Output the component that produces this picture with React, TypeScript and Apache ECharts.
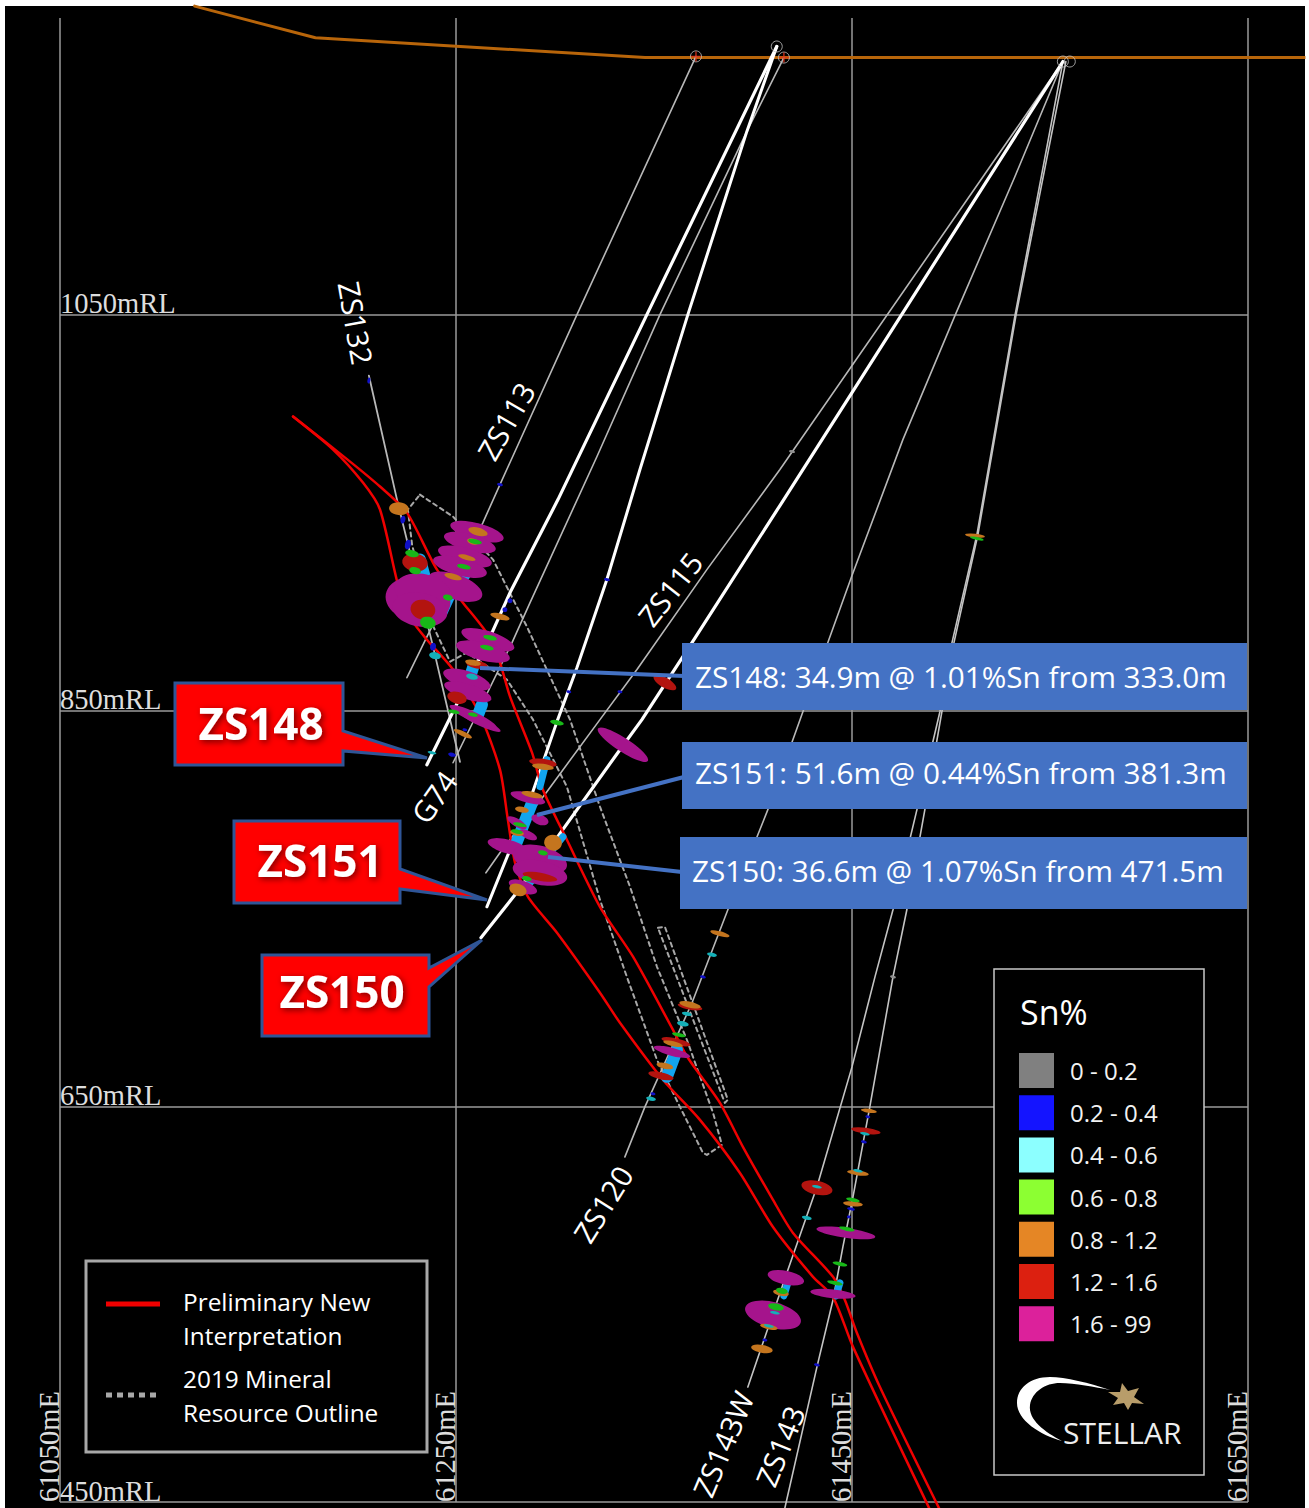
import React, { useEffect, useRef } from "react";
import * as echarts from "echarts";

type Pt = [number, number];
// Disc: easting, RL, width (m), thickness (m), tilt (deg)
type Disc = [number, number, number, number, number?];

const eastTicks = [61050, 61250, 61450, 61650];
const rlTicks = [450, 650, 850, 1050];

const topography: Pt[] = [[61118, 1206], [61179, 1190], [61345.5, 1180], [61650, 1180]];
const topographyEast: Pt[] = [[61650, 1180], [61679, 1180]];

const collarsRed: Pt[] = [[61371.2, 1180.6], [61415.6, 1180]];
const collarsGrey: Pt[] = [[61412, 1185.6], [61556.5, 1178], [61560, 1178]];

const holeZS148: Pt[] = [[61412, 1185.6], [61346.4, 1050.1], [61301.5, 956.6], [61277.3, 909.6], [61268.2, 889.4], [61235.3, 822.6]];
const holeZS151: Pt[] = [[61412, 1185.6], [61396.9, 1142.7], [61367.1, 1050.1], [61342.9, 971.8], [61326.2, 916.2], [61311.1, 871.7], [61301, 844.4], [61287.4, 804.9], [61277.3, 779.7], [61265.6, 750.8]];
const holeZS150: Pt[] = [[61556.5, 1178], [61450, 1010.7], [61413.6, 953.6], [61369.2, 884.3], [61343.9, 845.4], [61332.8, 830.2], [61295.9, 778.6], [61279.8, 756.9], [61262.6, 735.2]];

const holeZS113: Pt[] = [[61371.2, 1180.6], [61311.1, 1050.1], [61272.2, 964.2], [61263.6, 945], [61225.2, 866.6]];
const holeZS132: Pt[] = [[61206, 1019.3], [61220.2, 956.6], [61238.4, 882.3], [61252, 824.1]];
const holeG74: Pt[] = [[61415.6, 1180], [61396.9, 1142.7], [61353, 1050.1], [61321.2, 978.4], [61287.4, 904.5], [61278.3, 884.3], [61248.5, 823.6]];
const holeZS115: Pt[] = [[61556.5, 1178], [61413.6, 971.8], [61376.7, 921.2], [61341.4, 870.7], [61322.7, 845.4], [61295.9, 809], [61272.2, 778.1], [61265.1, 768]];
const holeZS120: Pt[] = [[61556.5, 1178], [61532.3, 1119.9], [61502, 1049.6], [61475.7, 986.9], [61450, 918.2], [61425.2, 849.4], [61407.5, 799.9], [61387.3, 749.3], [61369.2, 702.3], [61345.4, 649.7], [61335.3, 624.4]];
const holeZS143W: Pt[] = [[61556.5, 1178], [61546.4, 1124], [61532.3, 1049.6], [61513.1, 938.9], [61500.5, 884.3], [61494.4, 849.4], [61482.8, 799.9], [61470.7, 749.3], [61461.6, 715.4], [61450, 669.9], [61432.3, 609.3], [61417.1, 565.8], [61397.4, 508.1]];
const holeZS143: Pt[] = [[61558, 1178], [61547.4, 1124], [61532.8, 1049.6], [61513.6, 938.9], [61501.5, 884.3], [61495.4, 849.4], [61486.8, 799.9], [61477.7, 749.3], [61470.7, 715.4], [61459, 649.7], [61450.5, 604.2], [61445.4, 578.9], [61440.4, 552.1], [61432.3, 518.3], [61416.1, 447]];

const interpretationUpper: Pt[] = [[61167.7, 998.6], [61196.5, 975.8], [61211.6, 963.2], [61225.2, 950], [61240.4, 921.2], [61253.5, 904.5], [61266.1, 888.4], [61272.2, 874.2], [61277.3, 857], [61288.4, 828.7], [61293.9, 810], [61306, 784.7], [61322.7, 750.8], [61339.4, 725.6], [61359.6, 688.6], [61367.1, 674.5], [61383.3, 651.7], [61394.9, 629.5], [61410.1, 602.7], [61420.2, 586], [61440.4, 563.8], [61446.4, 552.1], [61452.5, 535.4], [61464.1, 508.1], [61494.4, 446]];
const interpretationLower: Pt[] = [[61167.7, 998.6], [61187.9, 981.9], [61203, 965.2], [61211.6, 951.6], [61220.7, 913.6], [61226.8, 897], [61235.3, 885.8], [61248.5, 870.7], [61262.1, 847.9], [61272.2, 820.1], [61276.2, 794.8], [61279.8, 773.1], [61286.3, 755.9], [61301, 737.7], [61322.7, 707.4], [61332.8, 692.2], [61354.5, 663.4], [61373.2, 643.1], [61393.4, 616.3], [61410.1, 589], [61430.3, 563.8], [61440.4, 553.6], [61450.5, 528.4], [61489.4, 446]];

const resourceOutlineMain: Pt[] = [[61231.8, 959.1], [61248.5, 948], [61268.7, 926.3], [61285.8, 892.4], [61307.6, 845.4], [61322.7, 801.4], [61337.9, 760.9], [61351.5, 720.5], [61366.6, 683.6], [61379.8, 646.7], [61384.3, 630.5], [61376.7, 625.4], [61374.7, 626.5], [61363.1, 649.7], [61351.5, 673.5], [61336.3, 715.4], [61322.7, 754.4], [61306, 811.5], [61288.9, 845.4], [61275.7, 865.6], [61255.5, 879.3], [61247, 874.7], [61236.9, 895.9], [61227.8, 933.9], [61225.7, 951.6], [61231.8, 959.1]];
const resourceOutlineSliver: Pt[] = [[61352, 740.2], [61355.5, 740.7], [61387.3, 653.3], [61385.8, 651.7], [61352, 740.2]];

const assayBarsWide: (Pt | null)[] = [[61248, 911.1], [61242.9, 900], null, [61231.8, 926.3], [61234.3, 917.2], null, [61258.6, 871.7], [61256, 863.6], null, [61263.1, 853], [61260.6, 846.4], null, [61288.4, 803.4], [61279.8, 781.2], null, [61361.6, 678.5], [61356.5, 664.9], null, [61261.1, 941.4], [61257, 932.3], null, [61256, 921.2], [61251, 913.6]];
const assayBarsNarrow: (Pt | null)[] = [[61295.9, 825.2], [61292.4, 811.5], null, [61304, 786.2], [61297.5, 778.1], null, [61288.9, 764.5], [61283.8, 759.4], null, [61443.9, 560.7], [61441.9, 554.2], null, [61417.6, 560.7], [61415.6, 554.2]];

const discsHigh: Disc[] = [
  [61260.6, 940.4, 27.8, 8.6, -15], [61257, 934.9, 27, 8.6, -15], [61254.5, 927.8, 28, 9, -15], [61252, 922.7, 28, 9, -15],
  [61249.5, 912.6, 29, 12.5, -20], [61230.8, 906, 33, 23, -10], [61233.3, 910, 29, 18, -12], [61231.8, 901, 28, 17, -10],
  [61266.1, 885.8, 28, 8.6, -18], [61263.6, 879.8, 28, 9, -15], [61255.5, 865.6, 25, 8.6, -18], [61256, 859.5, 25, 7.6, -18],
  [61258.6, 846.9, 26, 5, -25], [61262.1, 844.4, 23, 4, -25], [61334.3, 832.7, 30, 7, -33], [61286.3, 805.9, 18, 5, -15],
  [61292.4, 794.8, 9, 5, -20], [61280.8, 793.3, 11, 4, -30], [61286.3, 787.2, 10, 4, -25], [61276.2, 781.2, 21, 7, -15],
  [61292.4, 774.6, 28, 14, -15], [61292.4, 768, 28, 12, -12], [61283.8, 760.9, 15, 6, -20], [61359.1, 677.5, 19, 4, -15],
  [61416.6, 563.3, 18.7, 7, -12], [61410.1, 544.5, 29, 13, -15], [61446.9, 586, 30, 5, -8], [61440.4, 555.2, 23, 4.5, -6],
];
const discsRed: Disc[] = [
  [61229.3, 924.8, 13, 9, -10], [61233.3, 901, 12.6, 10, -10], [61250.5, 856.5, 10, 6, -15], [61260.6, 873.2, 11, 4, -10],
  [61293.9, 823.6, 14, 4, -8], [61292.4, 766, 17.7, 4, -10], [61368.2, 700.3, 12.6, 3, -10], [61361.1, 682.6, 15, 3.5, -13],
  [61353.5, 665.4, 13, 3.5, -13], [61432.3, 608.8, 16, 7, -12], [61457, 637.6, 15, 3, -8], [61355.5, 864.1, 13, 5, -30],
];
const discsOrange: Disc[] = [
  [61221.2, 952, 10, 6.5, -5], [61272.2, 897.5, 10, 3, -15], [61253.5, 838.3, 10, 2.5, -25], [61293.9, 821.6, 11, 3, -8],
  [61288.4, 807.5, 11, 3, -12], [61283.3, 799.9, 7, 3, -10], [61280.8, 788.2, 7, 3, -10], [61299, 783.2, 9, 8, -15],
  [61281.3, 759.4, 9, 6, -20], [61261.1, 940.4, 10, 4, -15], [61258.6, 935.4, 6, 3, -15], [61255.5, 927.3, 9, 2.5, -15],
  [61248.5, 917.7, 9, 3, -15], [61258.6, 874.2, 8, 3, -10], [61383.3, 737.2, 10, 2.5, -15], [61368.2, 701.3, 11, 3, -12],
  [61359.6, 681.6, 10, 2.5, -13], [61355.5, 670.4, 8.6, 3, -13], [61458.5, 647.7, 8, 2, -8], [61453, 616.3, 11, 2.5, -8],
  [61450.5, 600.7, 10, 2.5, -6], [61414.1, 555.7, 8, 3, -12], [61408, 538.5, 9, 2.5, -12], [61404.5, 527.4, 11, 4, -10],
  [61512.1, 938.4, 10, 2, -6],
];
const discsGreen: Disc[] = [
  [61227.8, 929.3, 7, 3.5], [61229.3, 920.7, 6, 3.5], [61235.8, 894.4, 8, 6], [61245.9, 907.1, 5, 3], [61267.2, 886.8, 7, 2.5],
  [61265.6, 881.8, 7, 2.5], [61254, 922.7, 7, 2.5], [61259.6, 935.4, 7, 2.5], [61249, 849.4, 6, 2], [61258.6, 847.9, 5, 2],
  [61301, 843.9, 7, 2.5], [61282.3, 792.3, 7, 2], [61280.8, 788.8, 6, 2], [61293.9, 778.1, 5, 2.5], [61285.8, 765, 5, 2.5],
  [61450.5, 602.7, 7, 2], [61443.9, 570.3, 7.5, 2], [61447.4, 588, 8, 2], [61441.4, 560.7, 8, 2], [61411.6, 548.6, 8, 3.5],
  [61414.6, 556.7, 6, 3], [61362.6, 686.1, 7, 2], [61513.1, 936.9, 7, 1.5],
];
const discsTeal: Disc[] = [
  [61239.4, 877.7, 6, 3.5], [61237.9, 828.7, 4.5, 1.5], [61258.1, 867.1, 6, 3], [61379.3, 726.6, 5, 2], [61366.6, 696.7, 5, 2],
  [61364.6, 691.7, 6, 2.5], [61348.5, 653.8, 5, 2], [61427.2, 593.6, 5, 2], [61432.3, 609.3, 5, 1.5], [61456.5, 636.1, 5, 1.5],
  [61453, 617.4, 5, 1.5], [61411.1, 545.6, 5, 1.5], [61408, 539, 5, 1.5],
];
const discsBlue: Disc[] = [
  [61272.2, 964.2, 3, 1.5], [61277.3, 905.5, 2.5, 2.5], [61274.7, 901, 2.5, 2.5], [61223.2, 946.5, 2.5, 4], [61225.7, 933.9, 3, 5],
  [61238.4, 882.3, 3, 4], [61248, 827.7, 4, 2], [61254.5, 840.3, 2.5, 1.5], [61307, 859.5, 2.5, 1.5], [61206, 1016.8, 1.5, 3],
  [61332.8, 859.5, 2.5, 1.5], [61374.7, 715.4, 3, 1.5], [61349.5, 656.3, 2.5, 1.5], [61458, 644.7, 2.5, 1.5], [61456, 632, 3, 1.5],
  [61432.3, 519.3, 3, 1.5], [61406, 531.9, 2.5, 1.5], [61448.4, 594.1, 2, 1.5], [61449.5, 598.1, 4, 1.5], [61326.2, 916.2, 3, 1.5],
];
const discsLow: Disc[] = [[61419.7, 980.9, 3, 1.5], [61470.7, 715.4, 3, 1.5]];

const gradeNames = ["0 - 0.2", "0.2 - 0.4", "0.4 - 0.6", "0.6 - 0.8", "0.8 - 1.2", "1.2 - 1.6", "1.6 - 99"];
const gradeColors = ["#808080", "#1414ff", "#8cffff", "#8cff32", "#e58625", "#dc2010", "#dc219b"];

const resultTexts = [
  "ZS148: 34.9m @ 1.01%Sn from 333.0m",
  "ZS151: 51.6m @ 0.44%Sn from 381.3m",
  "ZS150: 36.6m @ 1.07%Sn from 471.5m",
];

echarts.graphic.registerShape(
  "crescent",
  echarts.graphic.extendPath(
    "M1110 1390 C1090 1383 1065 1377 1050 1377 C1030 1377 1017 1388 1017 1403 C1017 1420 1040 1435 1062 1441 C1045 1432 1028 1420 1030 1405 C1032 1392 1045 1383 1060 1383 C1075 1383 1095 1387 1110 1390 Z",
    {}
  )
);

const FONT = '"Open Sans"';
const SCALE = 1.98;

function lineSeries(name: string, data: any[], color: string, width: number, z: number, dash?: number[], smooth?: number) {
  return {
    type: "line", name, data, symbol: "none", silent: true, clip: false, z, connectNulls: false, smooth: smooth ?? false,
    lineStyle: { color, width, type: dash ?? "solid", cap: "round", join: "round" },
    itemStyle: { color },
  };
}
function discSeries(name: string, data: Disc[], color: string, z: number) {
  return {
    type: "scatter", name, data, silent: true, clip: false, z,
    symbol: "circle",
    symbolSize: (v: number[]) => [v[2] * SCALE, v[3] * SCALE],
    symbolRotate: (v: number[]) => (v[4] ?? -12),
    itemStyle: { color, opacity: 1 },
  };
}
function text(t: string, x: number, y: number, size: number, opts: any = {}) {
  const { rotationDeg, weight, shadow, align, fill, z, family } = opts;
  return {
    type: "text", x, y, z: z ?? 7, silent: true,
    rotation: ((rotationDeg ?? 0) * Math.PI) / 180,
    style: {
      text: t, fill: fill ?? "#fff", fontFamily: family ?? FONT, fontSize: size, fontWeight: weight ?? "normal",
      align: align ?? "center", verticalAlign: "middle",
      ...(shadow ? { textShadowColor: "rgba(0,0,0,0.55)", textShadowBlur: 6, textShadowOffsetX: 2, textShadowOffsetY: 2 } : {}),
    },
  };
}
function calloutBox(points: number[][], label: string, cx: number, cy: number) {
  return [
    { type: "polygon", z: 5, silent: true, shape: { points }, style: { fill: "#ff0000", stroke: "#2f5597", lineWidth: 3 } },
    text(label, cx, cy, 44, { weight: "bold", shadow: true }),
  ];
}

export default function App() {
  const ref = useRef<HTMLDivElement>(null);
  useEffect(() => {
    const chart = echarts.init(ref.current!, undefined, { renderer: "svg" });
    const axisLabelBase = { inside: true, margin: 0, color: "#ddd", fontFamily: "Liberation Serif", fontSize: 28.5, lineHeight: 22 };
    const splitLine = { show: true, lineStyle: { color: "#9a9a9a", width: 1.5 } };
    chart.setOption({
      animation: false,
      backgroundColor: "transparent",
      grid: { left: 60, top: 18, width: 1188, height: 1484, containLabel: false },
      xAxis: {
        type: "value", min: 61050, max: 61650,
        axisLine: { show: false },
        axisTick: { show: false, customValues: eastTicks },
        splitLine,
        axisLabel: { ...axisLabelBase, customValues: eastTicks, rotate: 90, align: "left", verticalAlign: "bottom", formatter: (v: number) => `${v}mE` },
      },
      yAxis: {
        type: "value", min: 450, max: 1200,
        axisLine: { show: false },
        axisTick: { show: false, customValues: rlTicks },
        splitLine,
        axisLabel: { ...axisLabelBase, customValues: rlTicks, align: "left", verticalAlign: "bottom", formatter: (v: number) => `${v}mRL` },
      },
      legend: {
        orient: "vertical", left: 1019, top: 1053, padding: 0, itemWidth: 35, itemHeight: 35, itemGap: 7.2,
        selectedMode: false, z: 10, symbolRotate: 0,
        textStyle: { color: "#f2f2f2", fontFamily: FONT, fontSize: 24, padding: [1, 0, 0, 11] },
        data: gradeNames.map((name, i) => ({ name, icon: "rect", itemStyle: { color: gradeColors[i], borderWidth: 0 } })),
      },
      series: [
        lineSeries("Topography", topography, "#b8650a", 3, 2),
        {
          type: "custom", name: "Topography east", data: topographyEast, silent: true, clip: false, z: 2,
          renderItem: (params: any, api: any) => {
            if (params.dataIndex !== 0) return null;
            const a = api.coord(topographyEast[0]);
            const b = api.coord(topographyEast[1]);
            return { type: "line", shape: { x1: a[0], y1: a[1], x2: b[0], y2: b[1] }, style: { stroke: "#b8650a", lineWidth: 3 } };
          },
        },
        lineSeries("2019 outline", resourceOutlineMain, "#a8a8a8", 2, 2, [4, 4]),
        lineSeries("2019 outline sliver", resourceOutlineSliver, "#a8a8a8", 2, 2, [4, 4]),
        lineSeries("ZS113", holeZS113, "#b8b8b8", 1.6, 2),
        lineSeries("ZS132", holeZS132, "#b8b8b8", 1.8, 2),
        lineSeries("G74", holeG74, "#b8b8b8", 1.6, 2),
        lineSeries("ZS115", holeZS115, "#b8b8b8", 1.6, 2),
        lineSeries("ZS120", holeZS120, "#b8b8b8", 1.6, 2),
        lineSeries("ZS143W", holeZS143W, "#c4c4c4", 1.6, 2),
        lineSeries("ZS143", holeZS143, "#c4c4c4", 1.6, 2),
        lineSeries("ZS148", holeZS148, "#ffffff", 3.2, 2),
        lineSeries("ZS151", holeZS151, "#ffffff", 3, 2),
        lineSeries("ZS150", holeZS150, "#ffffff", 3.2, 2),
        lineSeries("Interpretation upper", interpretationUpper, "#f00000", 2.5, 2, undefined, 0.25),
        lineSeries("Interpretation lower", interpretationLower, "#f00000", 2.5, 2, undefined, 0.25),
        {
          type: "scatter", name: "collars", silent: true, clip: false, z: 2,
          data: [...collarsRed, ...collarsGrey], symbol: "circle", symbolSize: 11,
          itemStyle: { color: "rgba(0,0,0,0)", borderColor: "#c4c4c4", borderWidth: 1 },
        },
        {
          type: "scatter", name: "collar marks", silent: true, clip: false, z: 2,
          data: collarsRed, symbol: "path://M0 5H10M5 0V10", symbolSize: 10,
          itemStyle: { color: "rgba(0,0,0,0)", borderColor: "#e03018", borderWidth: 1.5 },
        },
        discSeries("1.6 - 99", discsHigh, "#a5148c", 2),
        lineSeries("assay wide", assayBarsWide.map((p) => p ?? ["-", "-"]), "#12a5ef", 12, 2),
        lineSeries("assay narrow", assayBarsNarrow.map((p) => p ?? ["-", "-"]), "#12a5ef", 7, 2),
        discSeries("1.2 - 1.6", discsRed, "#b3140f", 2),
        discSeries("0.8 - 1.2", discsOrange, "#c4751e", 2),
        discSeries("0.6 - 0.8", discsGreen, "#18b818", 2),
        discSeries("0.4 - 0.6", discsTeal, "#14b0b8", 2),
        discSeries("0.2 - 0.4", discsBlue, "#1010c8", 2),
        discSeries("0 - 0.2", discsLow, "#909090", 2),
      ],
      graphic: [
        // result connectors and boxes
        { type: "line", z: 3, silent: true, shape: { x1: 480, y1: 668, x2: 684, y2: 676 }, style: { stroke: "#4472c4", lineWidth: 4 } },
        { type: "line", z: 3, silent: true, shape: { x1: 537, y1: 815, x2: 684, y2: 777 }, style: { stroke: "#4472c4", lineWidth: 4 } },
        { type: "line", z: 3, silent: true, shape: { x1: 548, y1: 857, x2: 682, y2: 872 }, style: { stroke: "#4472c4", lineWidth: 4 } },
        { type: "rect", z: 5, silent: true, shape: { x: 682, y: 643, width: 565, height: 67 }, style: { fill: "#4472c4" } },
        { type: "rect", z: 5, silent: true, shape: { x: 682, y: 742, width: 565, height: 67 }, style: { fill: "#4472c4" } },
        { type: "rect", z: 5, silent: true, shape: { x: 680, y: 837, width: 567, height: 72 }, style: { fill: "#4472c4" } },
        text(resultTexts[0], 695, 676, 29.7, { align: "left" }),
        text(resultTexts[1], 695, 772, 29.7, { align: "left" }),
        text(resultTexts[2], 692, 870, 29.7, { align: "left" }),
        // red callouts
        ...calloutBox([[175, 683], [343, 683], [343, 731], [427, 758], [343, 751], [343, 765], [175, 765]], "ZS148", 261, 723),
        ...calloutBox([[234, 821], [400, 821], [400, 869], [487, 900], [400, 889], [400, 903], [234, 903]], "ZS151", 320, 860),
        ...calloutBox([[262, 955], [429, 955], [429, 968], [482, 940], [429, 987], [429, 1036], [262, 1036]], "ZS150", 342, 991),
        // hole labels
        text("ZS132", 356, 323, 29.5, { rotationDeg: -80 }),
        text("ZS113", 506, 421, 29.5, { rotationDeg: 60 }),
        text("ZS115", 670, 589, 29.5, { rotationDeg: 52 }),
        text("G74", 434, 797, 29.5, { rotationDeg: 55 }),
        text("ZS120", 603, 1204, 29.5, { rotationDeg: 58 }),
        text("ZS143W", 723, 1444, 29.5, { rotationDeg: 67 }),
        text("ZS143", 780, 1446, 29.5, { rotationDeg: 68 }),
        // line key
        { type: "rect", z: 5, silent: true, shape: { x: 86, y: 1261, width: 341, height: 191 }, style: { fill: "#000", stroke: "#a8a8a8", lineWidth: 3 } },
        { type: "line", z: 6, silent: true, shape: { x1: 106, y1: 1304, x2: 160, y2: 1304 }, style: { stroke: "#f00000", lineWidth: 5 } },
        { type: "line", z: 6, silent: true, shape: { x1: 106, y1: 1395, x2: 158, y2: 1395 }, style: { stroke: "#a8a8a8", lineWidth: 5, lineDash: [6, 5] } },
        text("Preliminary New", 183, 1301, 24.4, { align: "left" }),
        text("Interpretation", 183, 1335, 24.4, { align: "left" }),
        text("2019 Mineral", 183, 1378, 24.4, { align: "left" }),
        text("Resource Outline", 183, 1412, 24.4, { align: "left" }),
        // Sn% key frame and logo
        { type: "rect", z: 5, silent: true, shape: { x: 994, y: 969, width: 210, height: 506 }, style: { fill: "#000", stroke: "#c8c8c8", lineWidth: 1.5 } },
        text("Sn%", 1020, 1012, 34, { align: "left" }),
        { type: "crescent", x: 0, y: 0, z: 6, silent: true, style: { fill: "#fff" } },
        {
          type: "polygon", z: 6, silent: true,
          shape: { points: [[1108, 1392], [1120, 1392], [1122, 1383], [1128, 1391], [1139, 1388], [1134, 1397], [1144, 1404], [1132, 1403], [1128, 1410], [1124, 1403], [1113, 1405], [1118, 1398]] },
          style: { fill: "#b89d6a" },
        },
        text("STELLAR", 1063, 1432, 30, { align: "left", fill: "#eeeeee" }),
      ],
    });
    return () => chart.dispose();
  }, []);
  return (
    <div style={{ position: "absolute", left: 0, top: 0, width: 1309, height: 1508, background: "#fff", overflow: "hidden" }}>
      <div style={{ position: "absolute", left: 5, top: 6, width: 1300, height: 1502, background: "#000" }} />
      <div ref={ref} style={{ position: "absolute", left: 0, top: 0, width: 1309, height: 1508 }} />
    </div>
  );
}
